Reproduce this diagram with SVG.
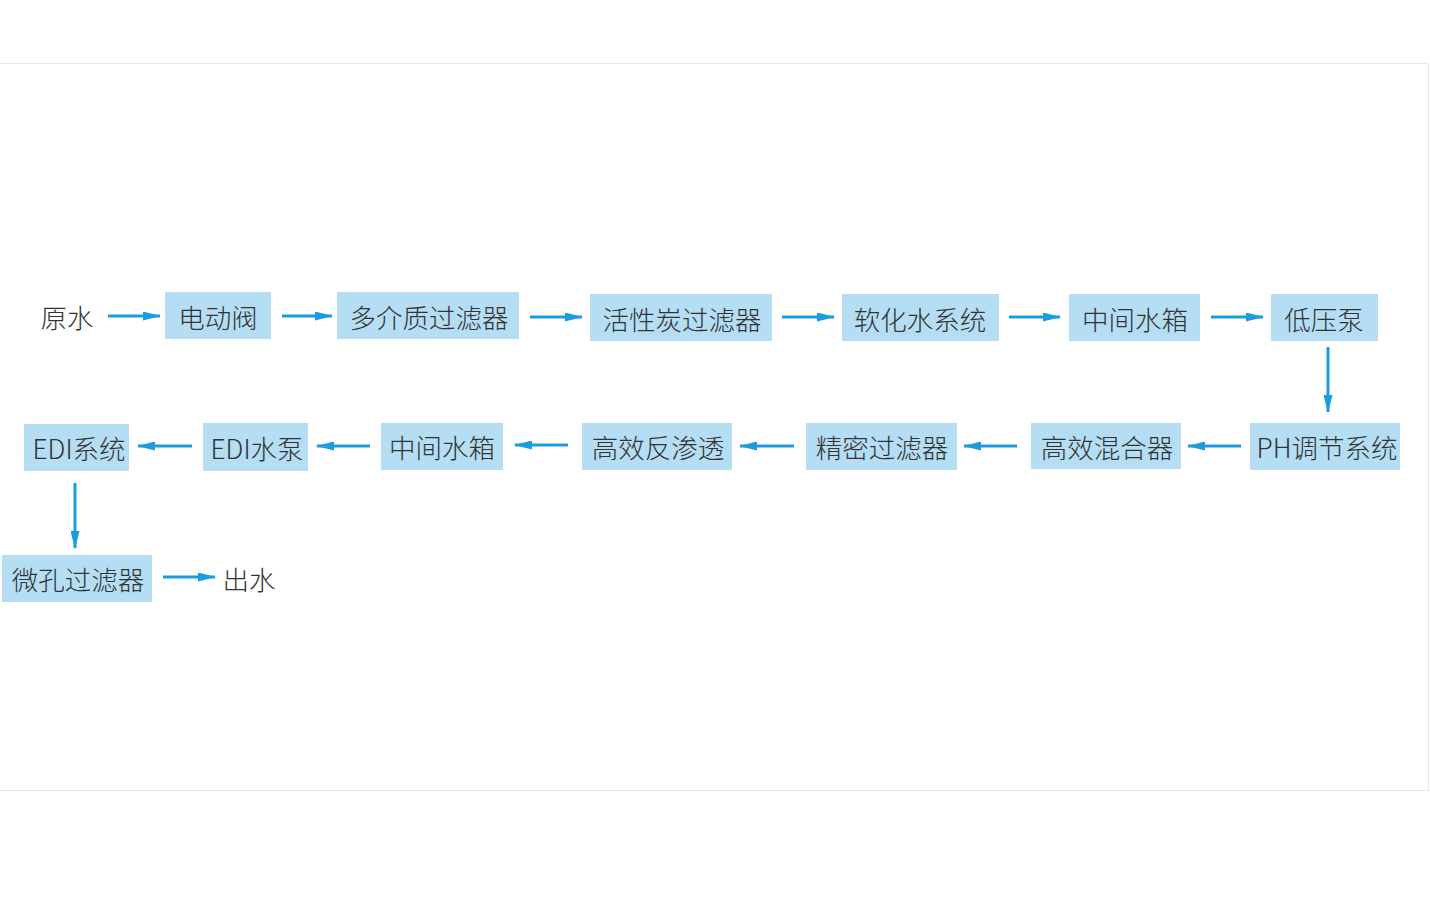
<svg xmlns="http://www.w3.org/2000/svg" width="1430" height="900" viewBox="0 0 1430 900">
<defs>
<style>
.box{fill:#b5def5}
.t{font-family:"Noto Sans CJK SC","Noto Sans",sans-serif;font-weight:300;font-size:26.5px;fill:#333;text-anchor:middle;dominant-baseline:central}
.c{stroke:#1a9de0;stroke-width:3;fill:none;marker-end:url(#ah)}
</style>
<marker id="ah" viewBox="0 0 18 9" refX="17" refY="4.5" markerWidth="18" markerHeight="9" markerUnits="userSpaceOnUse" orient="auto">
<path d="M0,0 L18,4.5 L0,9 Z" fill="#1a9de0"/>
</marker>
</defs>
<rect width="1430" height="900" fill="#fff"/>
<path d="M0,63.5 H1428.5 V790.5 H0" fill="none" stroke="#e6e6e6" stroke-width="1"/>
<g id="n0"><text class="t" x="67" y="316">原水</text></g>
<g id="n1"><rect class="box" x="165" y="292" width="106" height="47"/><text class="t" x="218" y="316">电动阀</text></g>
<g id="n2"><rect class="box" x="337" y="292" width="182" height="47"/><text class="t" x="429" y="316">多介质过滤器</text></g>
<g id="n3"><rect class="box" x="590" y="294" width="182" height="47"/><text class="t" x="682" y="318">活性炭过滤器</text></g>
<g id="n4"><rect class="box" x="842" y="294" width="157" height="47"/><text class="t" x="920" y="318">软化水系统</text></g>
<g id="n5"><rect class="box" x="1069" y="294" width="131" height="47"/><text class="t" x="1135" y="318">中间水箱</text></g>
<g id="n6"><rect class="box" x="1271" y="294" width="107" height="47"/><text class="t" x="1324" y="318">低压泵</text></g>
<g id="n7"><rect class="box" x="1250" y="423" width="150" height="47"/><text class="t" x="1327" y="446">PH调节系统</text></g>
<g id="n8"><rect class="box" x="1031" y="423" width="150" height="46"/><text class="t" x="1107" y="446">高效混合器</text></g>
<g id="n9"><rect class="box" x="806" y="423" width="151" height="47"/><text class="t" x="882" y="446">精密过滤器</text></g>
<g id="n10"><rect class="box" x="582" y="423" width="150" height="47"/><text class="t" x="658" y="446">高效反渗透</text></g>
<g id="n11"><rect class="box" x="381" y="423" width="122" height="47"/><text class="t" x="442" y="446">中间水箱</text></g>
<g id="n12"><rect class="box" x="203" y="423" width="105" height="48"/><text class="t" x="257" y="447">EDI水泵</text></g>
<g id="n13"><rect class="box" x="24" y="424" width="105" height="47"/><text class="t" x="79" y="447">EDI系统</text></g>
<g id="n14"><rect class="box" x="2" y="555" width="150" height="47"/><text class="t" x="78" y="578">微孔过滤器</text></g>
<g id="n15"><text class="t" x="249" y="578">出水</text></g>
<g id="connectors">
<line class="c" x1="108" y1="316" x2="160" y2="316"/>
<line class="c" x1="282" y1="316" x2="332" y2="316"/>
<line class="c" x1="530" y1="317" x2="582" y2="317"/>
<line class="c" x1="782" y1="317" x2="834" y2="317"/>
<line class="c" x1="1009" y1="317" x2="1060" y2="317"/>
<line class="c" x1="1211" y1="317" x2="1263" y2="317"/>
<line class="c" x1="1328" y1="347" x2="1328" y2="412"/>
<line class="c" x1="1241" y1="446" x2="1188" y2="446"/>
<line class="c" x1="1017" y1="446" x2="964" y2="446"/>
<line class="c" x1="794" y1="446" x2="740" y2="446"/>
<line class="c" x1="568" y1="445" x2="515" y2="445"/>
<line class="c" x1="370" y1="446" x2="317" y2="446"/>
<line class="c" x1="192" y1="446" x2="138" y2="446"/>
<line class="c" x1="75" y1="483" x2="75" y2="548"/>
<line class="c" x1="163" y1="577" x2="215" y2="577"/>
</g>
</svg>
